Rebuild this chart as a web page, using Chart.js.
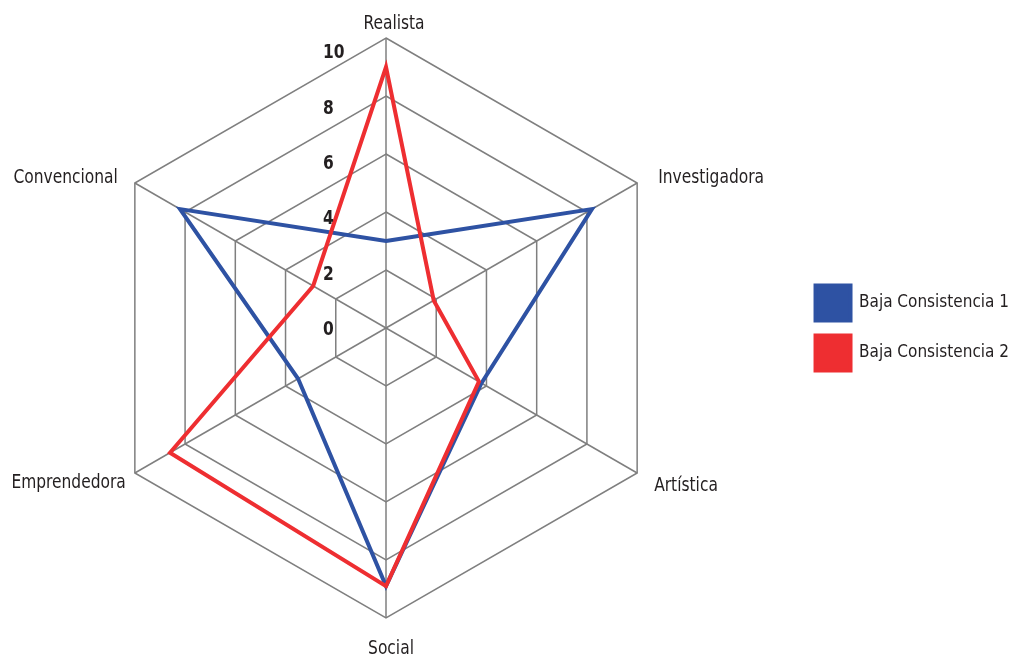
<!DOCTYPE html>
<html>
<head>
<meta charset="utf-8">
<script src="https://cdn.jsdelivr.net/npm/chart.js@4"></script>
<style>
  html, body { margin: 0; padding: 0; background: #fff; }
  #wrap { width: 1019px; height: 657px; }
</style>
</head>
<body>
<div id="wrap"><canvas id="radar-chart"></canvas></div>
<script>
const categorias = ['Realista', 'Investigadora', 'Artística', 'Social', 'Emprendedora', 'Convencional'];
const baja1 = [3.0, 8.2, 3.8, 8.9, 3.5, 8.2];
const baja2 = [9.0, 1.9, 3.7, 8.9, 8.6, 2.9];
const ticksEje = [0, 2, 4, 6, 8, 10];

const fuente = '"Liberation Sans Narrow", "DejaVu Sans Condensed", "Roboto Condensed", sans-serif';

// text squeezed a bit sideways, the original uses a condensed face
function textoEstrecho(ctx, txt, x, y, align) {
  ctx.save();
  ctx.translate(x, y);
  ctx.scale(0.86, 1);
  ctx.textAlign = align;
  ctx.fillText(txt, 0, 0);
  ctx.restore();
}

// offsets of each category label from its outer vertex: [dx, dy, align]
const desfaseEtiq = [[8, -9, 'center'], [21, 0, 'left'], [17, 18, 'left'],
                     [5, 36, 'center'], [-9, 15, 'right'], [-17, 0, 'right']];

const etiquetasRadar = {
  id: 'etiquetasRadar',
  afterDatasetsDraw(chart) {
    const r = chart.scales.r;
    const ctx = chart.ctx;
    ctx.save();
    ctx.fillStyle = '#231f20';
    ctx.textBaseline = 'alphabetic';
    // category names
    ctx.font = '20px ' + fuente;
    chart.data.labels.forEach((lab, i) => {
      const p = r.getPointPosition(i, r.drawingArea);
      const o = desfaseEtiq[i];
      textoEstrecho(ctx, lab, p.x + o[0], p.y + o[1], o[2]);
    });
    // tick values, to the left of the top axis
    ctx.font = 'bold 20px ' + fuente;
    ctx.textBaseline = 'middle';
    r.ticks.forEach(t => {
      const d = r.getDistanceFromCenterForValue(t.value);
      textoEstrecho(ctx, String(t.value), r.xCenter - 63, r.yCenter + 2 - d * 0.955, 'left');
    });
    ctx.restore();
  }
};

const dataR = {
  labels: categorias,
  datasets: [{
    label: 'Baja Consistencia 1',
    data: baja1,
    borderColor: '#2e52a3',
    backgroundColor: '#2e52a3',
    borderWidth: 4,
    fill: false,
    pointRadius: 0,
    order: 2
  }, {
    label: 'Baja Consistencia 2',
    data: baja2,
    borderColor: '#ee2e31',
    backgroundColor: '#ee2e31',
    borderWidth: 4,
    fill: false,
    pointRadius: 0,
    order: 1
  }]
};

const configR = {
  type: 'radar',
  data: dataR,
  options: {
    responsive: true,
    maintainAspectRatio: false,
    animation: false,
    layout: { padding: { left: 0, right: 0, top: 38, bottom: 39 } },
    elements: { line: { tension: 0, borderJoinStyle: 'miter' } },
    scales: {
      r: {
        min: 0,
        max: 10,
        afterBuildTicks: s => { s.ticks = ticksEje.map(v => ({ value: v })); },
        // the web sits a little left of the free area in the original
        afterFit: s => { s.xCenter = 386; },
        ticks: { display: false },
        grid: { color: '#7f7f7f', lineWidth: 1.5 },
        angleLines: { color: '#7f7f7f', lineWidth: 1.5 },
        pointLabels: { display: false }
      }
    },
    plugins: {
      tooltip: { enabled: false },
      legend: {
        position: 'right',
        labels: {
          boxWidth: 35,
          boxHeight: 35,
          padding: 15,
          color: '#231f20',
          font: { family: fuente, size: 17 },
          sort: (a, b) => a.datasetIndex - b.datasetIndex
        }
      }
    }
  },
  plugins: [etiquetasRadar]
};

let radarObj = document.getElementById('radar-chart');
let radarChart = new Chart(radarObj, configR);
</script>
</body>
</html>
